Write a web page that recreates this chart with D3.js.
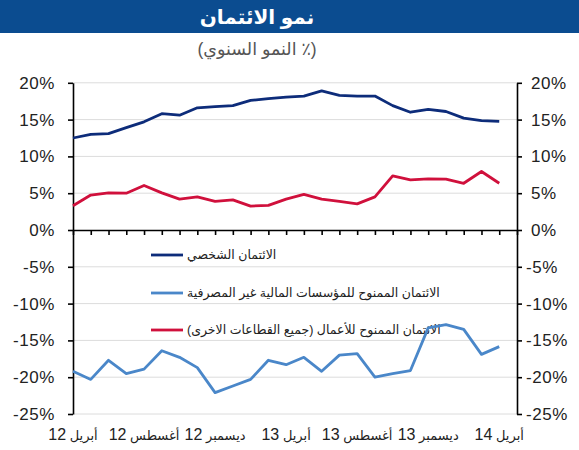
<html>
<head>
<meta charset="utf-8">
<script src="https://d3js.org/d3.v7.min.js"></script>
<style>
    body { margin: 0; background: #fff; }
    svg { display: block; font-family: Arial, "Liberation Sans", "DejaVu Sans", sans-serif; }
    .axis path, .axis line { stroke: #000; stroke-width: 1.6; }
    .axis text { fill: #222; font-size: 17px; letter-spacing: 0.6px; }
    .grid line { stroke: #dcdcdc; stroke-width: 1; }
    .series { fill: none; stroke-width: 2.8; stroke-linejoin: round; }
</style>
</head>
<body>

<svg id="chart" width="579" height="450"></svg>

<script>

    // months (Apr 2012 .. Apr 2014), labels every 4 months
    let xMonths = ['أبريل', 'أغسطس', 'ديسمبر', 'أبريل', 'أغسطس', 'ديسمبر', 'أبريل'];
    let xYears = ['12', '12', '12', '13', '13', '13', '14'];
    let yTicks = [-25, -20, -15, -10, -5, 0, 5, 10, 15, 20];

    let personal = [12.5, 13.0, 13.1, 13.9, 14.7, 15.8, 15.6, 16.6, 16.75, 16.9, 17.6, 17.85, 18.05,
                    18.2, 18.9, 18.3, 18.2, 18.2, 16.9, 16.0, 16.4, 16.1, 15.2, 14.85, 14.75];
    let nonBank = [-19.2, -20.3, -17.7, -19.5, -18.9, -16.4, -17.3, -18.7, -22.1, -21.2, -20.3, -17.7, -18.3,
                   -17.3, -19.2, -17.0, -16.8, -20.0, -19.5, -19.1, -13.3, -12.85, -13.5, -16.9, -15.85];
    let business = [3.3, 4.75, 5.05, 5.0, 6.05, 5.05, 4.2, 4.5, 3.9, 4.1, 3.25, 3.35, 4.2,
                    4.85, 4.2, 3.9, 3.55, 4.5, 7.35, 6.8, 6.95, 6.9, 6.35, 7.95, 6.35];

    let seriesNames = ['الائتمان الشخصي', 'الائتمان الممنوح للمؤسسات المالية غير المصرفية', 'الائتمان الممنوح للأعمال (جميع القطاعات الاخرى)'];
    let seriesColors = ['#0d2c7a', '#4a87c9', '#d0103c'];

    let series = [personal, nonBank, business].map((v, i) => ({ name: seriesNames[i], color: seriesColors[i], values: v }));

    let svg = d3.select('#chart');
    let width = +svg.attr('width');

    let x = d3.scaleLinear().domain([0, 25]).range([73, 517]);
    let y = d3.scaleLinear().domain([-25, 20]).range([414, 82.8]);

    // title banner
    svg.append('rect')
        .attr('x', 0).attr('y', 0)
        .attr('width', width).attr('height', 33)
        .attr('fill', '#0b4c90');
    svg.append('text')
        .attr('x', 257).attr('y', 24)
        .attr('text-anchor', 'middle')
        .attr('direction', 'rtl')
        .attr('fill', '#fff')
        .style('font-size', '20px')
        .style('font-weight', 'bold')
        .text('نمو الائتمان');
    svg.append('text')
        .attr('x', 257).attr('y', 55)
        .attr('text-anchor', 'middle')
        .attr('direction', 'rtl')
        .attr('fill', '#555')
        .style('font-size', '17.5px')
        .text('(٪ النمو السنوي)');

    // gridlines
    svg.append('g').attr('class', 'grid')
        .selectAll('line')
        .data(yTicks.filter(d => d !== 0))
      .enter()
        .append('line')
        .attr('x1', x(0)).attr('x2', x(25))
        .attr('y1', d => y(d)).attr('y2', d => y(d));

    // legend (drawn under the lines)
    let legend = svg.append('g');
    let legendY = [255, 293, 330];
    series.forEach((s, i) => {
        legend.append('line')
            .attr('x1', 151).attr('x2', 183)
            .attr('y1', legendY[i]).attr('y2', legendY[i])
            .attr('stroke', s.color).attr('stroke-width', 2.8);
        let t = legend.append('text')
            .attr('y', legendY[i] + 4)
            .attr('text-anchor', 'middle')
            .attr('direction', 'rtl')
            .attr('fill', '#222')
            .style('font-size', '12.5px')
            .text(s.name);
        let w = t.node().getComputedTextLength();
        t.attr('x', 187 + w / 2);
    });

    // axes
    let fmt = d => d + '%';

    svg.append('g').attr('class', 'axis')
        .attr('transform', 'translate(' + x(0) + ',0)')
        .call(d3.axisLeft(y).tickValues(yTicks).tickSize(5).tickSizeOuter(0).tickPadding(13).tickFormat(fmt));

    let right = svg.append('g').attr('class', 'axis')
        .attr('transform', 'translate(' + x(25) + ',0)')
        .call(d3.axisRight(y).tickValues(yTicks).tickSize(5).tickSizeOuter(0).tickPadding(9).tickFormat(fmt));
    right.selectAll('text').attr('x', d => d < 0 ? 9 : 14);

    svg.append('g').attr('class', 'axis')
        .attr('transform', 'translate(0,' + y(0) + ')')
        .call(d3.axisBottom(x).ticks(25).tickSize(5).tickSizeOuter(0).tickFormat(''));

    // month labels: month name + two-digit year, right-to-left
    let labels = svg.append('g')
        .selectAll('text')
        .data(xMonths)
      .enter()
        .append('text')
        .attr('x', (d, i) => x(i * 4))
        .attr('y', 440)
        .attr('text-anchor', 'middle')
        .attr('direction', 'rtl')
        .attr('fill', '#222');
    labels.append('tspan')
        .style('font-size', '13px')
        .text(d => d + ' ');
    labels.append('tspan')
        .style('font-size', '16px')
        .text((d, i) => xYears[i]);

    // lines
    let line = d3.line()
        .x((d, i) => x(i))
        .y(d => y(d));

    svg.selectAll('.series')
        .data(series)
      .enter()
        .append('path')
        .attr('class', 'series')
        .attr('stroke', d => d.color)
        .attr('d', d => line(d.values));

</script>

</body>
</html>
